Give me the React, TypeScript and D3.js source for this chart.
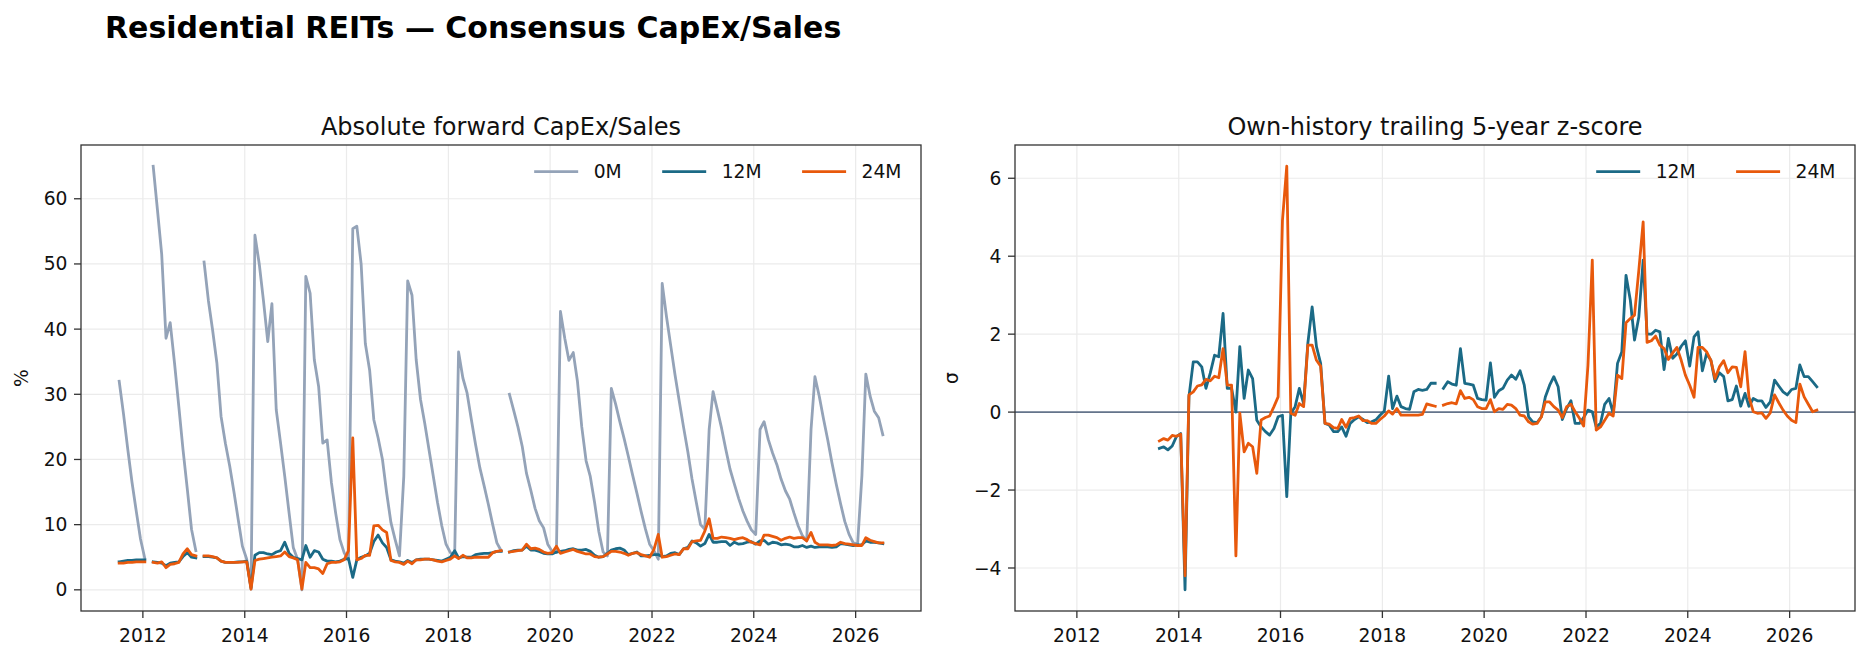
import React, { useEffect, useRef } from "react";
import * as d3 from "d3";

const WIDTH = 1869;
const HEIGHT = 659;
const FONT = "'DejaVu Sans', sans-serif";

// monthly consensus observations, Jul 2011 .. Jul 2026
const firstMonth = new Date(2011, 6, 15);

const capex0M = [
  32.0, 27.0, 21.5, 16.5, 12.0, 7.8, 4.8, null, 65.0, 58.2, 51.5, 38.6,
  41.0, 34.8, 28.1, 21.5, 15.4, 9.3, 6.0, null, 50.3, 44.4, 39.9, 34.8,
  26.6, 22.5, 19.0, 15.1, 10.8, 6.7, 4.7, 0.1, 54.4, 50.0, 44.4, 38.1,
  43.9, 27.6, 22.5, 17.4, 11.8, 6.5, 4.7, 0.0, 48.1, 45.5, 35.3, 31.2,
  22.5, 23.0, 16.4, 11.8, 7.7, 5.7, 4.6, 55.4, 55.8, 50.0, 37.8, 33.7,
  26.1, 23.3, 20.0, 14.9, 10.3, 7.7, 5.2, 17.4, 47.4, 45.2, 35.3, 29.2,
  25.6, 21.5, 17.4, 13.4, 9.8, 7.0, 5.7, 5.3, 36.5, 32.5, 30.2, 26.1,
  22.3, 18.7, 15.9, 13.1, 10.0, 7.2, 6.0, null, 30.0, 27.5, 25.0, 22.0,
  17.9, 15.3, 12.5, 10.6, 9.5, 7.0, 5.9, 5.7, 42.7, 38.6, 35.2, 36.4,
  32.0, 25.0, 19.8, 17.4, 13.4, 9.0, 5.8, 5.2, 30.9, 28.5, 25.8, 23.2,
  20.5, 17.6, 14.8, 12.0, 9.3, 7.0, 6.0, 4.7, 47.0, 41.9, 37.5, 33.0,
  29.0, 25.0, 21.2, 17.0, 13.4, 10.0, 9.3, 24.6, 30.4, 27.6, 24.8, 21.5,
  18.5, 16.2, 14.0, 12.1, 10.5, 9.2, 8.5, 24.6, 25.8, 23.0, 21.0, 19.2,
  17.0, 15.2, 13.9, 11.8, 9.8, 8.3, 7.5, 24.6, 32.7, 29.7, 26.3, 23.0,
  19.5, 16.2, 13.2, 10.5, 8.5, 7.2, 7.0, 17.5, 33.1, 29.7, 27.4, 26.4,
  23.8,
];

const capex12M = [
  4.3, 4.4, 4.5, 4.5, 4.6, 4.6, 4.6, null, 4.3, 4.2, 4.1, 3.7,
  4.1, 4.2, 4.3, 5.1, 5.7, 5.0, 4.9, null, 5.1, 5.1, 5.0, 4.9,
  4.4, 4.2, 4.2, 4.2, 4.3, 4.3, 4.4, 0.3, 5.3, 5.7, 5.7, 5.5,
  5.4, 5.8, 6.0, 7.3, 5.6, 5.0, 4.8, 4.6, 6.8, 5.0, 6.0, 5.8,
  4.7, 4.4, 4.4, 4.3, 4.4, 4.7, 4.8, 1.9, 4.6, 5.0, 5.2, 5.6,
  7.4, 8.4, 7.2, 6.5, 4.6, 4.4, 4.3, 4.1, 4.5, 4.2, 4.6, 4.7,
  4.7, 4.7, 4.6, 4.5, 4.4, 4.7, 5.0, 6.0, 4.9, 5.1, 5.0, 5.0,
  5.4, 5.5, 5.6, 5.6, 5.7, 5.9, 5.9, null, 5.8, 6.0, 6.1, 6.1,
  6.7, 6.1, 6.1, 5.9, 5.6, 5.5, 5.5, 5.8, 5.9, 6.0, 6.2, 6.3,
  6.1, 6.1, 6.2, 5.9, 5.3, 5.0, 5.1, 5.6, 6.1, 6.3, 6.4, 6.1,
  5.4, 5.6, 5.8, 5.2, 5.2, 5.3, 5.4, 5.4, 5.1, 5.2, 5.6, 5.7,
  5.4, 6.3, 6.5, 7.5, 7.2, 6.7, 7.1, 8.5, 7.3, 7.3, 7.4, 7.4,
  6.8, 7.3, 7.0, 7.1, 7.3, 7.4, 7.0, 7.5, 7.6, 7.0, 7.3, 7.2,
  6.9, 7.0, 6.9, 6.6, 6.6, 6.8, 6.5, 6.7, 6.5, 6.6, 6.6, 6.6,
  6.5, 6.6, 7.1, 7.0, 6.9, 6.8, 6.9, 6.9, 7.5, 7.3, 7.3, 7.2,
  7.1,
];

const capex24M = [
  4.1, 4.1, 4.2, 4.2, 4.3, 4.3, 4.3, null, 4.2, 4.1, 4.3, 3.4,
  3.9, 4.0, 4.2, 5.5, 6.3, 5.4, 5.2, null, 5.2, 5.2, 5.1, 4.9,
  4.4, 4.2, 4.2, 4.2, 4.2, 4.3, 4.3, 0.1, 4.5, 4.7, 4.8, 4.9,
  5.0, 5.1, 5.2, 5.8, 5.1, 4.9, 4.6, 0.1, 4.2, 3.4, 3.4, 3.2,
  2.5, 4.0, 4.2, 4.2, 4.3, 4.6, 6.0, 23.3, 4.6, 4.8, 5.3, 5.3,
  9.8, 9.9, 9.2, 8.8, 4.5, 4.3, 4.2, 3.9, 4.4, 4.0, 4.6, 4.6,
  4.7, 4.7, 4.6, 4.4, 4.3, 4.5, 4.7, 5.2, 4.8, 5.3, 4.9, 4.9,
  5.0, 5.0, 5.0, 5.0, 5.7, 5.9, 6.0, null, 5.8, 5.9, 6.0, 6.1,
  7.0, 6.3, 6.4, 6.2, 5.8, 5.6, 5.7, 6.7, 5.6, 5.8, 6.0, 6.2,
  5.9, 5.7, 5.5, 5.5, 5.1, 5.0, 5.1, 5.5, 5.9, 5.9, 5.8, 5.6,
  5.3, 5.6, 5.7, 5.4, 5.2, 5.0, 6.2, 8.5, 5.0, 5.1, 5.3, 5.5,
  5.4, 6.3, 6.3, 7.4, 7.5, 7.6, 9.0, 10.9, 7.9, 7.9, 8.1, 8.0,
  7.9, 7.7, 7.9, 8.0, 7.7, 7.3, 7.1, 6.9, 8.4, 8.4, 8.2, 8.0,
  7.6, 7.9, 8.1, 7.9, 8.0, 8.0, 7.5, 8.8, 7.3, 6.9, 6.9, 6.9,
  6.8, 6.9, 7.3, 7.1, 7.0, 6.9, 6.8, 6.8, 8.0, 7.6, 7.4, 7.2,
  7.2,
];

// trailing 5-year z-scores begin with Aug 2013 (month index 25)
const zFirstIndex = 25;

const z12M = [
  -0.93, -0.89, -0.97, -0.87, -0.63, -0.55, -4.56, 0.39, 1.29, 1.29, 1.16,
  0.61, 1.0, 1.46, 1.42, 2.53, 0.61, 0.61, 0.0, 1.68, 0.35, 1.08, 0.86,
  -0.21, -0.38, -0.5, -0.59, -0.42, -0.12, -0.08, -2.17, -0.03, 0.14, 0.61, 0.22,
  1.76, 2.7, 1.68, 1.25, -0.29, -0.33, -0.5, -0.5, -0.38, -0.62, -0.29, -0.19,
  -0.12, -0.19, -0.27, -0.25, -0.2, -0.08, 0.03, 0.92, 0.09, 0.41, 0.14, 0.09,
  0.07, 0.52, 0.58, 0.56, 0.58, 0.74, 0.74, null, 0.61, 0.78, 0.72, 0.69,
  1.63, 0.74, 0.72, 0.69, 0.35, 0.32, 0.31, 1.26, 0.38, 0.55, 0.61, 0.82,
  0.95, 0.84, 1.06, 0.69, -0.12, -0.25, -0.27, -0.12, 0.39, 0.69, 0.91, 0.65,
  -0.19, 0.09, 0.29, -0.29, -0.29, -0.14, 0.05, 0.01, -0.38, -0.29, 0.2, 0.35,
  -0.03, 1.25, 1.55, 3.51, 2.87, 1.85, 2.44, 3.9, 2.0, 2.0, 2.1, 2.06,
  1.09, 1.89, 1.38, 1.49, 1.69, 1.83, 1.18, 1.93, 2.06, 1.06, 1.5, 1.33,
  0.78, 1.01, 0.91, 0.29, 0.32, 0.67, 0.15, 0.48, 0.15, 0.35, 0.29, 0.29,
  0.12, 0.26, 0.82, 0.67, 0.52, 0.44, 0.58, 0.61, 1.21, 0.91, 0.91, 0.78,
  0.65,
];

const z24M = [
  -0.74, -0.68, -0.72, -0.6, -0.62, -0.57, -4.2, 0.44, 0.52, 0.67, 0.7,
  0.84, 0.8, 0.92, 0.88, 1.63, 0.69, 0.69, -3.69, -0.03, -1.02, -0.8, -0.89,
  -1.57, -0.2, -0.14, -0.1, 0.14, 0.39, 4.92, 6.31, -0.03, -0.08, 0.22, 0.14,
  1.72, 1.72, 1.33, 1.18, -0.29, -0.31, -0.4, -0.42, -0.19, -0.39, -0.16, -0.14,
  -0.1, -0.22, -0.22, -0.29, -0.29, -0.19, -0.1, 0.03, -0.05, 0.09, -0.08, -0.08,
  -0.08, -0.08, -0.08, -0.06, 0.21, 0.18, 0.15, null, 0.18, 0.22, 0.24, 0.21,
  0.55, 0.35, 0.38, 0.32, 0.14, 0.09, 0.09, 0.32, 0.01, 0.09, 0.07, 0.2,
  0.18, 0.09, -0.08, -0.1, -0.25, -0.31, -0.29, -0.12, 0.26, 0.26, 0.14, 0.05,
  -0.14, 0.14, 0.2, 0.01, -0.16, -0.36, 1.2, 3.9, -0.46, -0.38, -0.21, -0.03,
  -0.1, 0.95, 0.86, 2.29, 2.4, 2.49, 3.64, 4.88, 1.79, 1.83, 1.95, 1.72,
  1.63, 1.35, 1.52, 1.66, 1.33, 0.95, 0.69, 0.38, 1.66, 1.66, 1.55, 1.33,
  0.86, 1.16, 1.32, 1.01, 1.16, 1.15, 0.65, 1.55, 0.39, 0.01, -0.03, -0.02,
  -0.16, -0.02, 0.44, 0.24, 0.05, -0.1, -0.21, -0.27, 0.72, 0.39, 0.2, 0.01,
  0.05,
];

const yearTicks = [2012, 2014, 2016, 2018, 2020, 2022, 2024, 2026];
const pctTicks = [0, 10, 20, 30, 40, 50, 60];
const sigmaTicks = [-4, -2, 0, 2, 4, 6];

const COLOR_0M = "#94a3b8";
const COLOR_12M = "#1b6a86";
const COLOR_24M = "#e8590c";
const ZERO_COLOR = "#64748b";
const GRID_COLOR = "#ebebeb";
const SPINE_COLOR = "#333333";
const LINE_W = 2.8;

type Series = { name: string; color: string; values: (number | null)[]; offset: number };

type PanelConfig = {
  left: number;
  right: number;
  top: number;
  bottom: number;
  title: string;
  yLabel: string;
  yLabelX: number;
  yTicks: number[];
  series: Series[];
  zeroLine?: boolean;
};

const padded = (lo: number, hi: number): [number, number] => {
  const d = (hi - lo) * 0.05;
  return [lo - d, hi + d];
};

const fmtTick = (v: number) => (v < 0 ? "\u2212" + Math.abs(v) : String(v));

function drawPanel(
  svg: d3.Selection<SVGSVGElement, unknown, null, undefined>,
  dates: Date[],
  xDomain: [Date, Date],
  cfg: PanelConfig
) {
  const { left, right, top, bottom } = cfg;
  const g = svg.append("g");

  const x = d3.scaleTime().domain(xDomain).range([left, right]);
  const all = cfg.series.flatMap((s) => s.values.filter((v): v is number => v != null));
  const [lo, hi] = d3.extent(all) as [number, number];
  const y = d3.scaleLinear().domain(padded(lo, hi)).range([bottom, top]);

  // grid
  const grid = g.append("g").attr("stroke", GRID_COLOR).attr("stroke-width", 1.2);
  yearTicks.forEach((yr) => {
    const xp = x(new Date(yr, 0, 1));
    grid.append("line").attr("x1", xp).attr("x2", xp).attr("y1", top).attr("y2", bottom);
  });
  cfg.yTicks.forEach((t) => {
    grid.append("line").attr("x1", left).attr("x2", right).attr("y1", y(t)).attr("y2", y(t));
  });

  if (cfg.zeroLine) {
    g.append("line")
      .attr("x1", left)
      .attr("x2", right)
      .attr("y1", y(0))
      .attr("y2", y(0))
      .attr("stroke", ZERO_COLOR)
      .attr("stroke-width", 1.7);
  }

  // series
  cfg.series.forEach((s) => {
    const line = d3
      .line<number | null>()
      .defined((v) => v != null)
      .x((_, i) => x(dates[i + s.offset]))
      .y((v) => y(v as number));
    g.append("path")
      .attr("d", line(s.values))
      .attr("fill", "none")
      .attr("stroke", s.color)
      .attr("stroke-width", LINE_W)
      .attr("stroke-linejoin", "round")
      .attr("stroke-linecap", "square");
  });

  // frame
  g.append("rect")
    .attr("x", left)
    .attr("y", top)
    .attr("width", right - left)
    .attr("height", bottom - top)
    .attr("fill", "none")
    .attr("stroke", SPINE_COLOR)
    .attr("stroke-width", 1.3);

  // x axis
  yearTicks.forEach((yr) => {
    const xp = x(new Date(yr, 0, 1));
    g.append("line")
      .attr("x1", xp)
      .attr("x2", xp)
      .attr("y1", bottom)
      .attr("y2", bottom + 7)
      .attr("stroke", SPINE_COLOR)
      .attr("stroke-width", 1.3);
    g.append("text")
      .attr("x", xp)
      .attr("y", bottom + 30.5)
      .attr("text-anchor", "middle")
      .attr("font-family", FONT)
      .attr("font-size", 18.7)
      .attr("fill", "#111")
      .text(String(yr));
  });

  // y axis
  cfg.yTicks.forEach((t) => {
    g.append("line")
      .attr("x1", left - 7)
      .attr("x2", left)
      .attr("y1", y(t))
      .attr("y2", y(t))
      .attr("stroke", SPINE_COLOR)
      .attr("stroke-width", 1.3);
    g.append("text")
      .attr("x", left - 13.5)
      .attr("y", y(t))
      .attr("dy", "0.35em")
      .attr("text-anchor", "end")
      .attr("font-family", FONT)
      .attr("font-size", 18.7)
      .attr("fill", "#111")
      .text(fmtTick(t));
  });

  g.append("text")
    .attr("transform", `translate(${cfg.yLabelX},${(top + bottom) / 2}) rotate(-90)`)
    .attr("text-anchor", "middle")
    .attr("font-family", FONT)
    .attr("font-size", 18.7)
    .attr("fill", "#111")
    .text(cfg.yLabel);

  g.append("text")
    .attr("x", (left + right) / 2)
    .attr("y", top - 10.5)
    .attr("text-anchor", "middle")
    .attr("font-family", FONT)
    .attr("font-size", 24)
    .attr("fill", "#111")
    .text(cfg.title);

  // legend, laid out from the right edge
  const legend = g.append("g");
  const cy = top + 26.7;
  let xEnd = right - 19.5;
  [...cfg.series].reverse().forEach((s) => {
    const t = legend
      .append("text")
      .attr("y", cy)
      .attr("dy", "0.35em")
      .attr("font-family", FONT)
      .attr("font-size", 18.7)
      .attr("fill", "#111")
      .text(s.name);
    const w = (t.node() as SVGTextElement).getComputedTextLength();
    const tx = xEnd - w;
    t.attr("x", tx);
    legend
      .append("line")
      .attr("x1", tx - 15.5 - 44)
      .attr("x2", tx - 15.5)
      .attr("y1", cy)
      .attr("y2", cy)
      .attr("stroke", s.color)
      .attr("stroke-width", LINE_W);
    xEnd = tx - 15.5 - 44 - 40.5;
  });
}

export default function App() {
  const svgRef = useRef<SVGSVGElement>(null);

  useEffect(() => {
    if (!svgRef.current) return;
    const svg = d3.select(svgRef.current);
    svg.selectAll("*").remove();

    const dates = capex0M.map((_, i) => d3.timeMonth.offset(firstMonth, i));
    const [t0, t1] = padded(+dates[0], +dates[dates.length - 1]);
    const xDomain: [Date, Date] = [new Date(t0), new Date(t1)];

    svg
      .append("text")
      .attr("x", 105)
      .attr("y", 37.5)
      .attr("font-family", FONT)
      .attr("font-size", 30)
      .attr("font-weight", "bold")
      .attr("fill", "#000")
      .text("Residential REITs \u2014 Consensus CapEx/Sales");

    drawPanel(svg, dates, xDomain, {
      left: 81,
      right: 921,
      top: 145,
      bottom: 611,
      title: "Absolute forward CapEx/Sales",
      yLabel: "%",
      yLabelX: 28,
      yTicks: pctTicks,
      series: [
        { name: "0M", color: COLOR_0M, values: capex0M, offset: 0 },
        { name: "12M", color: COLOR_12M, values: capex12M, offset: 0 },
        { name: "24M", color: COLOR_24M, values: capex24M, offset: 0 },
      ],
    });

    drawPanel(svg, dates, xDomain, {
      left: 1015,
      right: 1855,
      top: 145,
      bottom: 611,
      title: "Own-history trailing 5-year z-score",
      yLabel: "\u03c3",
      yLabelX: 958,
      yTicks: sigmaTicks,
      zeroLine: true,
      series: [
        { name: "12M", color: COLOR_12M, values: z12M, offset: zFirstIndex },
        { name: "24M", color: COLOR_24M, values: z24M, offset: zFirstIndex },
      ],
    });
  }, []);

  return (
    <div style={{ position: "absolute", left: 0, top: 0, background: "#fff" }}>
      <svg ref={svgRef} width={WIDTH} height={HEIGHT} style={{ display: "block" }} />
    </div>
  );
}
